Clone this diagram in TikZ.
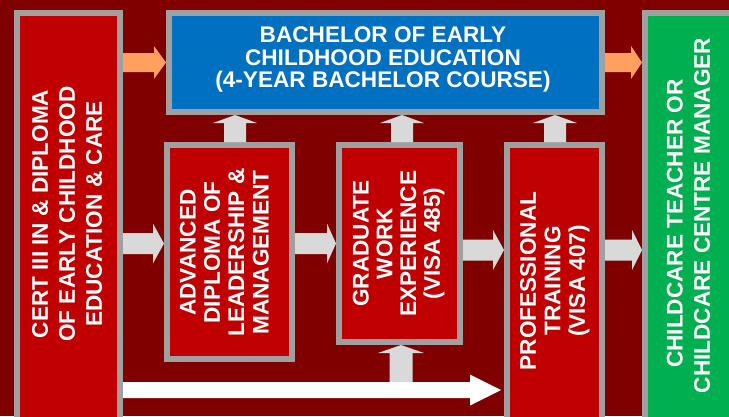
\documentclass[tikz,border=0pt]{standalone}
\usepackage{fontspec}
\setmainfont{Liberation Sans}
\usetikzlibrary{calc}
\definecolor{bgred}{HTML}{800000}
\definecolor{boxred}{HTML}{C00000}
\definecolor{bordergray}{HTML}{A0A0A0}
\definecolor{bblue}{HTML}{0070C0}
\definecolor{bgreen}{HTML}{00B050}
\definecolor{arrgray}{HTML}{D9D9D9}
\definecolor{arrorange}{HTML}{FFA060}
% #1 tail, #2 tip, #3 shaft half width, #4 head half width, #5 head length, #6 fill
\newcommand\blockarrow[6]{%
  \path (#2) coordinate (ba-tip) (#1) coordinate (ba-tail);
  \path ($(ba-tip)!#5!(ba-tail)$) coordinate (ba-head);
  \fill[#6] ($(ba-tail)!#3!90:(ba-tip)$) -- ($(ba-head)!#3!-90:(ba-tail)$)
    -- ($(ba-head)!#4!-90:(ba-tail)$) -- (ba-tip) -- ($(ba-head)!#4!90:(ba-tail)$)
    -- ($(ba-head)!#3!90:(ba-tail)$) -- ($(ba-tail)!#3!-90:(ba-tip)$) -- cycle;}
\begin{document}
\begin{tikzpicture}[x=1pt,y=-1pt,
  box/.style={draw=bordergray, line width=6pt, inner sep=0pt},
  lbl/.style={text=white, font=\bfseries\fontsize{22.6}{#1}\selectfont, align=center, inner sep=0pt}]
\useasboundingbox (0,0) rectangle (729,416);
\clip (0,0) rectangle (729,416);
\fill[bgred] (0,0) rectangle (729,416);
% boxes
\node[box, fill=boxred, minimum width=103pt, minimum height=427pt] (cert) at (68.5,226.5) {};
\node[box, fill=bblue, minimum width=433pt, minimum height=99pt] (blue) at (385.5,62.5) {};
\node[box, fill=bgreen, minimum width=100pt, minimum height=427pt] (green) at (695,226.5) {};
\node[box, fill=boxred, minimum width=125pt, minimum height=214pt] (adv) at (229.5,252) {};
\node[box, fill=boxred, minimum width=121pt, minimum height=197pt] (grad) at (399.5,243.5) {};
\node[box, fill=boxred, minimum width=95pt, minimum height=295pt] (prof) at (554.5,292.5) {};
% level coordinates
\coordinate (ya) at (0,243.5);
\coordinate (yb) at (0,250);
\coordinate (yw) at (0,390);
\coordinate (u1) at (235,0);
\coordinate (u2) at (402,0);
\coordinate (u3) at (555,0);
\coordinate (u4) at (401,382);
\path (prof.west |- yw) ++(-3,0) coordinate (wt);
% orange arrows
\blockarrow{cert.east |- blue.west}{blue.west}{9.5pt}{16.5pt}{12pt}{arrorange}
\blockarrow{blue.east}{green.west |- blue.east}{9.5pt}{16.5pt}{11pt}{arrorange}
% up arrows to bachelor
\blockarrow{u1 |- adv.north}{u1 |- blue.south}{11pt}{22pt}{8pt}{arrgray}
\blockarrow{u2 |- grad.north}{u2 |- blue.south}{11pt}{22pt}{8pt}{arrgray}
\blockarrow{u3 |- prof.north}{u3 |- blue.south}{11pt}{22pt}{8pt}{arrgray}
% horizontal gray arrows
\blockarrow{cert.east |- ya}{adv.west |- ya}{10.5pt}{20pt}{11pt}{arrgray}
\blockarrow{adv.east |- grad.west}{grad.west}{10.5pt}{20pt}{9pt}{arrgray}
\blockarrow{grad.east |- yb}{prof.west |- yb}{10.5pt}{20pt}{11pt}{arrgray}
\blockarrow{prof.east |- yb}{green.west |- yb}{10.5pt}{20pt}{10pt}{arrgray}
% bottom arrows
\blockarrow{u4}{u4 |- grad.south}{11.5pt}{23pt}{8pt}{arrgray}
\blockarrow{cert.east |- yw}{wt}{8pt}{15.5pt}{31pt}{white}
% texts
\node[lbl=27, rotate=90] (certtxt) at (67.2,214) {CERT III IN \& DIPLOMA\\OF EARLY CHILDHOOD\\EDUCATION \& CARE};
\node[lbl=22.7] (bluetxt) at (383,59.5) {BACHELOR OF EARLY\\CHILDHOOD EDUCATION\\(4-YEAR BACHELOR COURSE)};
\node[lbl=24.3, rotate=90] (advtxt) at (224.3,252.5) {ADVANCED\\DIPLOMA OF\\LEADERSHIP \&\\MANAGEMENT};
\node[lbl=23.8, rotate=90] (gradtxt) at (398.7,243.5) {GRADUATE\\WORK\\EXPERIENCE\\(VISA 485)};
\node[lbl=24.5, rotate=90] (proftxt) at (554.8,281) {PROFESSIONAL\\TRAINING\\(VISA 407)};
\node[lbl=27.3, rotate=90] (greentxt) at (688.4,215.5) {CHILDCARE TEACHER OR\hspace*{16pt}\\CHILDCARE CENTRE MANAGER};
\end{tikzpicture}
\end{document}
